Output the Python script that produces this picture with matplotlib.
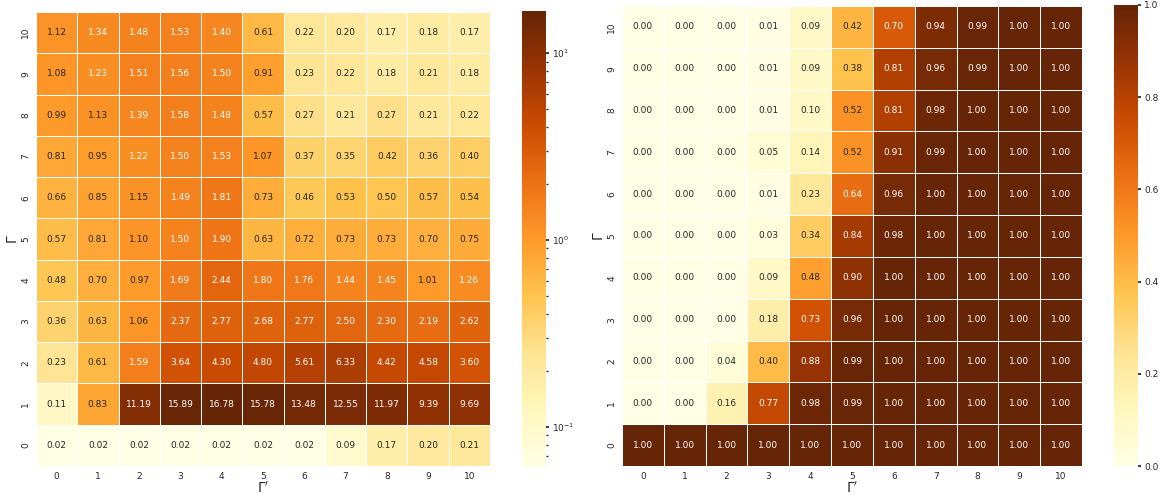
import numpy as np
import matplotlib
matplotlib.use("Agg")
import matplotlib.pyplot as plt
import seaborn as sns
from matplotlib.colors import LogNorm

sns.set_theme(style="white")

labels = list(range(11))

# rows are Gamma = 0..10, columns Gamma' = 0..10
left_vals = [
    [0.02, 0.02, 0.02, 0.02, 0.02, 0.02, 0.02, 0.09, 0.17, 0.20, 0.21],
    [0.11, 0.83, 11.19, 15.89, 16.78, 15.78, 13.48, 12.55, 11.97, 9.39, 9.69],
    [0.23, 0.61, 1.59, 3.64, 4.30, 4.80, 5.61, 6.33, 4.42, 4.58, 3.60],
    [0.36, 0.63, 1.06, 2.37, 2.77, 2.68, 2.77, 2.50, 2.30, 2.19, 2.62],
    [0.48, 0.70, 0.97, 1.69, 2.44, 1.80, 1.76, 1.44, 1.45, 1.01, 1.26],
    [0.57, 0.81, 1.10, 1.50, 1.90, 0.63, 0.72, 0.73, 0.73, 0.70, 0.75],
    [0.66, 0.85, 1.15, 1.49, 1.81, 0.73, 0.46, 0.53, 0.50, 0.57, 0.54],
    [0.81, 0.95, 1.22, 1.50, 1.53, 1.07, 0.37, 0.35, 0.42, 0.36, 0.40],
    [0.99, 1.13, 1.39, 1.58, 1.48, 0.57, 0.27, 0.21, 0.27, 0.21, 0.22],
    [1.08, 1.23, 1.51, 1.56, 1.50, 0.91, 0.23, 0.22, 0.18, 0.21, 0.18],
    [1.12, 1.34, 1.48, 1.53, 1.40, 0.61, 0.22, 0.20, 0.17, 0.18, 0.17],
]

right_vals = [
    [1.00, 1.00, 1.00, 1.00, 1.00, 1.00, 1.00, 1.00, 1.00, 1.00, 1.00],
    [0.00, 0.00, 0.16, 0.77, 0.98, 0.99, 1.00, 1.00, 1.00, 1.00, 1.00],
    [0.00, 0.00, 0.04, 0.40, 0.88, 0.99, 1.00, 1.00, 1.00, 1.00, 1.00],
    [0.00, 0.00, 0.00, 0.18, 0.73, 0.96, 1.00, 1.00, 1.00, 1.00, 1.00],
    [0.00, 0.00, 0.00, 0.09, 0.48, 0.90, 1.00, 1.00, 1.00, 1.00, 1.00],
    [0.00, 0.00, 0.00, 0.03, 0.34, 0.84, 0.98, 1.00, 1.00, 1.00, 1.00],
    [0.00, 0.00, 0.00, 0.01, 0.23, 0.64, 0.96, 1.00, 1.00, 1.00, 1.00],
    [0.00, 0.00, 0.00, 0.05, 0.14, 0.52, 0.91, 0.99, 1.00, 1.00, 1.00],
    [0.00, 0.00, 0.00, 0.01, 0.10, 0.52, 0.81, 0.98, 1.00, 1.00, 1.00],
    [0.00, 0.00, 0.00, 0.01, 0.09, 0.38, 0.81, 0.96, 0.99, 1.00, 1.00],
    [0.00, 0.00, 0.00, 0.01, 0.09, 0.42, 0.70, 0.94, 0.99, 1.00, 1.00],
]

W, H = 1167, 496
fig = plt.figure(figsize=(W / 100, H / 100), dpi=100)

def box(x0, y0, x1, y1):
    return [x0 / W, 1 - y1 / H, (x1 - x0) / W, (y1 - y0) / H]

ax1 = fig.add_axes(box(36, 12, 490, 466))
cax1 = fig.add_axes(box(522, 11, 546, 467))
ax2 = fig.add_axes(box(622, 6, 1082, 466))
cax2 = fig.add_axes(box(1114, 5, 1138, 466))

kw = dict(annot=True, fmt=".2f", cmap="YlOrBr", linewidths=0.6, linecolor="white",
          annot_kws={"size": 6.5}, xticklabels=labels, yticklabels=labels)

sns.heatmap(np.array(left_vals), ax=ax1, cbar_ax=cax1,
            norm=LogNorm(vmin=0.061, vmax=16.78), **kw)
sns.heatmap(np.array(right_vals), ax=ax2, cbar_ax=cax2, vmin=0, vmax=1, **kw)

for ax in (ax1, ax2):
    ax.invert_yaxis()
    ax.set_xlabel(r"$\Gamma'$", fontsize=10, labelpad=0)
    ax.set_ylabel(r"$\Gamma$", fontsize=10, labelpad=1)
    ax.tick_params(axis="both", labelsize=6.5, length=0, pad=4)
    plt.setp(ax.get_yticklabels(), rotation=90, va="center")
    plt.setp(ax.get_xticklabels(), rotation=0)

for cax in (cax1, cax2):
    cax.tick_params(labelsize=6.5, length=2.5, pad=2)
    cax.tick_params(which="minor", length=1.5)

fig.savefig("out.png", dpi=100)
